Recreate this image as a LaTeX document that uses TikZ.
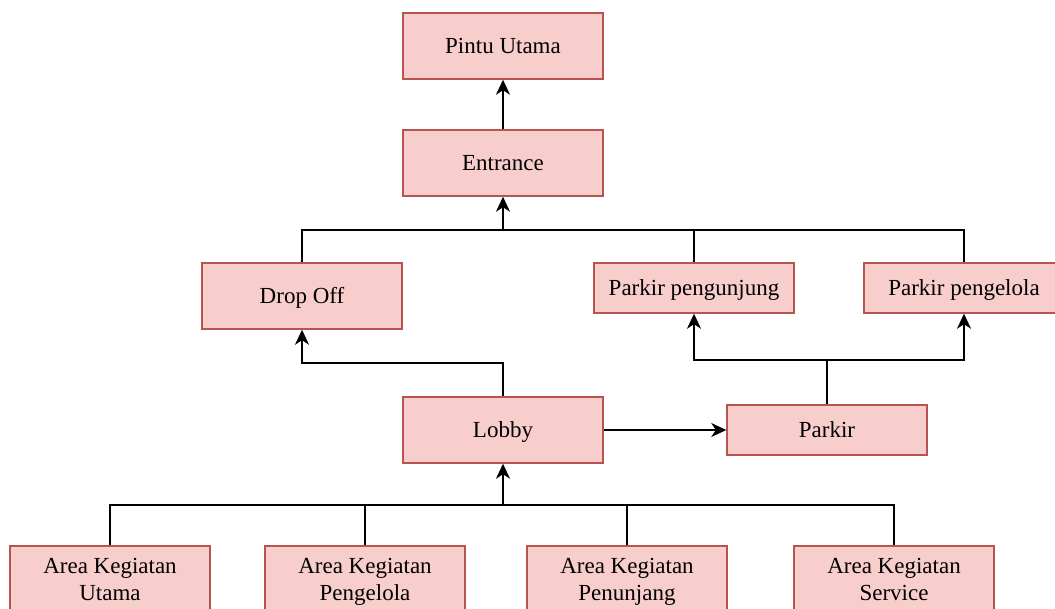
\documentclass[tikz,border=0pt]{standalone}
\usepackage{fontspec}
\setmainfont{Liberation Serif}
\newfontfamily\boxfont{Liberation Serif}
\usetikzlibrary{arrows.meta}
\definecolor{boxfill}{HTML}{F8CECC}
\definecolor{boxline}{HTML}{B85450}
% fixed line box so every label sits at the same height
\newcommand\lnstrut{\rule[-5pt]{0pt}{25pt}}
\begin{document}
\begin{tikzpicture}[x=1pt,y=-1pt,
  box/.style={draw=boxline,fill=boxfill,line width=1.4pt,minimum width=200pt,
    inner sep=0pt,align=center,font=\boxfont\fontsize{23}{27}\selectfont},
  tall/.style={box,minimum height=66pt},
  short/.style={box,minimum height=50pt},
  link/.style={draw=black,line width=1.6pt},
  arrow/.style={link,-{Stealth[length=15pt,width=14pt,inset=4.5pt]}}]
\useasboundingbox (0,0) rectangle (1055,608);
% boxes
\node[tall]  (pintu) at (503,46)  {Pintu Utama\lnstrut};
\node[tall]  (ent)   at (503,163) {Entrance\lnstrut};
\node[tall]  (drop)  at (302,296) {Drop Off\lnstrut};
\node[short] (pkp)   at (694,288) {Parkir pengunjung\lnstrut};
\node[short] (pkg)   at (964,288) {Parkir pengelola\lnstrut};
\node[tall]  (lobby) at (503,430) {Lobby\lnstrut};
\node[short] (park)  at (827,430) {Parkir\lnstrut};
\node[tall]  (utama) at (110,579) {Area Kegiatan\lnstrut\\Utama\lnstrut};
\node[tall]  (pglo)  at (365,579) {Area Kegiatan\lnstrut\\Pengelola\lnstrut};
\node[tall]  (pnj)   at (627,579) {Area Kegiatan\lnstrut\\Penunjang\lnstrut};
\node[tall]  (serv)  at (894,579) {Area Kegiatan\lnstrut\\Service\lnstrut};
% junction points
\coordinate (jent)   at (503,230);
\coordinate (jdrop)  at (503,363);
\coordinate (jpark)  at (827,360);
\coordinate (jlobby) at (503,505);
% connectors
\draw[arrow] (ent.north) -- (pintu.south);
\draw[link] (drop.north) |- (jent);
\draw[link] (pkp.north) |- (jent);
\draw[link] (pkg.north) |- (jent);
\draw[arrow] (jent) -- (ent.south);
\draw[arrow] (lobby.north) -- (jdrop) -| (drop.south);
\draw[arrow] (lobby.east) -- (park.west);
\draw[link] (park.north) -- (jpark);
\draw[arrow] (jpark) -| (pkp.south);
\draw[arrow] (jpark) -| (pkg.south);
\draw[link] (utama.north) |- (jlobby);
\draw[link] (pglo.north) |- (jlobby);
\draw[link] (pnj.north) |- (jlobby);
\draw[link] (serv.north) |- (jlobby);
\draw[arrow] (jlobby) -- (lobby.south);
\end{tikzpicture}
\end{document}
